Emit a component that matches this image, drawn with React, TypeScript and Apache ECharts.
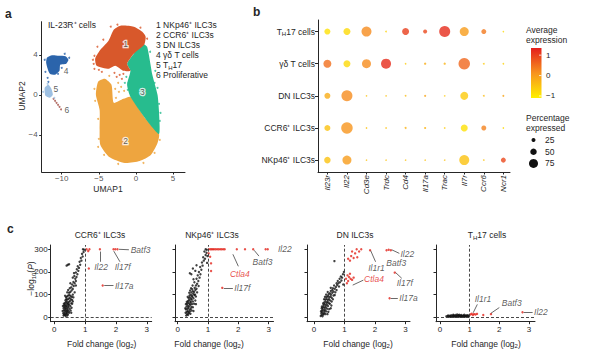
import React, { useEffect, useRef } from 'react';
import * as echarts from 'echarts';

const FONT = '"Liberation Sans", Arial, Helvetica, sans-serif';
const INK = '#262626';

// ---------- Panel a : UMAP ----------
const UMAP_NAMES = ['NKp46⁺ ILC3s', 'CCR6⁺ ILC3s', 'DN ILC3s', 'γδ T cells', 'TH17', 'Proliferative'];
const UMAP_COLORS = ['#D8582B', '#EEA53F', '#27BC8E', '#2B64AB', '#9EC0E2', '#A5524A'];
const UMAP_OUTLINE_1: [number, number][] = [[-2.1, 6.9], [-0.3, 6.8], [0.85, 6.3], [1.3, 5.8], [1.1, 5.0], [-0.3, 4.1], [-1.2, 3.1], [-0.75, 2.4], [-1.7, 2.4], [-2.8, 2.9], [-3.7, 2.6], [-5.3, 2.9], [-5.5, 3.6], [-4.9, 4.4], [-3.7, 5.4], [-3.0, 6.5]];
const UMAP_OUTLINE_2: [number, number][] = [[-1.5, -6.8], [0.5, -6.6], [2.0, -6.0], [2.9, -4.8], [3.1, -3.9], [1.2, -2.3], [-0.75, -0.2], [-1.7, -0.4], [-3.0, -0.8], [-3.3, 1.0], [-4.2, 1.6], [-5.1, 1.3], [-5.4, 0.0], [-4.9, -1.5], [-4.9, -3.5], [-4.8, -5.0], [-3.6, -6.2]];
const UMAP_OUTLINE_3: [number, number][] = [[0.85, 5.1], [1.5, 4.8], [2.2, 2.0], [2.9, 0.0], [3.1, -1.7], [3.1, -3.9], [1.2, -2.3], [-0.75, -0.2], [-1.2, 1.0], [-0.75, 2.4], [-1.2, 3.1], [-0.3, 4.1]];
const UMAP_OUTLINE_4: [number, number][] = [[-12.0, 3.7], [-11.3, 3.95], [-10.4, 3.9], [-9.5, 3.85], [-9.1, 3.5], [-9.4, 3.1], [-10.2, 3.0], [-10.3, 2.4], [-10.9, 2.0], [-11.6, 2.1], [-11.9, 2.6], [-12.1, 3.2]];
const UMAP_OUTLINE_5: [number, number][] = [[-12.3, 0.7], [-11.8, 1.0], [-11.4, 0.6], [-11.2, 0.0], [-11.6, -0.3], [-12.2, -0.1]];
const UMAP_OUTLINES = [UMAP_OUTLINE_2, UMAP_OUTLINE_3, UMAP_OUTLINE_1, UMAP_OUTLINE_4, UMAP_OUTLINE_5];
const UMAP_OUTLINE_CLUSTER = [1, 2, 0, 3, 4];
// scattered cells: [x, y, cluster index]
const UMAP_CELLS: [number, number, number][] = [
  [-2.6, 1.8, 0], [-2.2, 2.0, 0], [-1.9, 1.6, 0], [-2.9, 2.2, 0], [-1.7, 2.1, 0], [-2.4, 1.2, 1], [-2.0, 0.8, 1],
  [-1.6, 0.4, 1], [-2.8, 0.6, 1], [-2.3, 0.3, 1], [-2.7, -0.3, 1], [-1.3, 1.8, 2], [-1.0, 1.2, 2], [-1.1, 0.5, 2],
  [-1.5, 1.2, 2], [-5.7, 3.1, 0], [-5.6, 3.9, 0], [-5.2, 4.8, 0], [-4.4, 5.5, 0], [-3.4, 6.8, 0], [-5.6, 2.6, 0],
  [-5.8, 3.5, 0], [-5.0, 2.5, 0], [-4.6, 2.3, 0], [-2.5, 7.0, 0], [0.6, 6.7, 0], [1.5, 5.6, 0],
  [-5.6, 0.6, 1], [-5.5, -0.6, 1], [-5.1, -2.4, 1], [-5.0, -4.4, 1], [-5.1, -5.2, 1], [-4.3, -6.0, 1], [-2.4, -6.9, 1],
  [1.0, -6.8, 1], [2.5, -5.8, 1], [3.2, -4.5, 1], [-3.6, 1.9, 1], [-3.6, 0.2, 1],
  [3.2, -2.6, 2], [3.1, -0.9, 2], [2.5, 1.2, 2], [2.6, 2.4, 2], [1.9, 4.3, 2], [3.3, -1.8, 2], [2.9, 0.7, 2],
  [-11.9, 1.7, 3], [-11.8, 1.3, 3], [-12.2, 2.3, 3], [-9.0, 3.7, 3], [-10.0, 2.7, 3], [-12.3, 3.5, 3], [-9.6, 4.1, 3], [-10.5, 2.1, 3],
  [-11.1, -0.4, 5], [-10.9, -0.6, 5], [-10.7, -0.8, 5], [-10.5, -1.0, 5], [-10.3, -1.2, 5], [-10.1, -1.45, 5], [-11.0, -0.3, 4],
  [-12.5, 0.3, 4], [-11.9, 1.1, 4],
];
const UMAP_X_TICKS = [-10, -5, 0, 5];
const UMAP_Y_TICKS = [-4, 0, 4];
const UMAP_TAGS: [string, number, number][] = [['1', -1.4, 5.1], ['2', -1.4, -4.6], ['3', 0.85, 0.26], ['4', -9.4, 2.36], ['5', -10.8, 0.53], ['6', -9.3, -1.47]];

// ---------- Panel b : dot plot ----------
const DOT_GENES = ['Il23r', 'Il22', 'Cd3e', 'Trdc', 'Cd4', 'Il17a', 'Trac', 'Il7r', 'Ccr6', 'Ncr1'];
const DOT_GROUPS_TOP_DOWN = ['TH17 cells', 'γδ T cells', 'DN ILC3s', 'CCR6⁺ ILC3s', 'NKp46⁺ ILC3s'];
const AVG_EXPRESSION = [
  [-0.9, -0.8, 0.2, -0.7, 1.0, 0.9, 1.2, 0.0, 0.4, -0.8],
  [0.5, -0.8, 0.2, 1.2, -0.6, -0.2, -0.3, 0.6, -0.6, -0.7],
  [-0.2, 0.2, -0.5, -0.5, -0.4, -0.1, -0.6, -0.6, -0.4, -0.1],
  [-0.5, 0.1, -0.5, -0.5, -0.3, -0.3, -0.6, -0.9, 0.3, -0.8],
  [-0.5, 0.0, -0.5, -0.5, -0.5, -0.5, -0.5, -0.5, -0.5, 0.9],
];
const PCT_EXPRESSED = [
  [45, 55, 85, 2, 55, 25, 95, 75, 35, 1],
  [65, 55, 75, 85, 1, 8, 8, 100, 3, 2],
  [45, 95, 1, 1, 2, 7, 1, 65, 3, 6],
  [45, 100, 1, 1, 5, 6, 1, 55, 35, 1],
  [50, 75, 1, 1, 1, 1, 1, 85, 2, 35],
];
const COLORBAR_TICKS = [1, 0, -1];
const SIZE_LEGEND = [25, 50, 75];

// ---------- Panel c : volcano plots ----------
const VOLCANO_TITLES = ['CCR6⁺ ILC3s', 'NKp46⁺ ILC3s', 'DN ILC3s', 'TH17 cells'];
const FC_TICKS = [0, 1, 2, 3];
const P_TICKS = [0, 100, 200, 300];
const CCR6_OTHER: [number, number][] = [
  [0.30, 8], [0.32, 12], [0.35, 10], [0.38, 15], [0.33, 20], [0.36, 25], [0.40, 18], [0.42, 22], [0.31, 30], [0.34, 35],
  [0.37, 30], [0.41, 28], [0.44, 32], [0.47, 26], [0.30, 40], [0.33, 45], [0.36, 42], [0.39, 38], [0.43, 40], [0.46, 45],
  [0.50, 38], [0.32, 52], [0.35, 55], [0.38, 50], [0.41, 58], [0.45, 52], [0.48, 56], [0.52, 50], [0.34, 62], [0.37, 66],
  [0.40, 70], [0.43, 64], [0.47, 68], [0.51, 72], [0.55, 62], [0.36, 75], [0.39, 80], [0.42, 78], [0.46, 82], [0.50, 85],
  [0.54, 80], [0.58, 76], [0.38, 88], [0.41, 92], [0.45, 96], [0.49, 98], [0.53, 94], [0.57, 90], [0.60, 100], [0.29, 18],
  [0.31, 60], [0.44, 12], [0.48, 20], [0.53, 30], [0.56, 42], [0.40, 48], [0.37, 6], [0.42, 8], [0.46, 60], [0.60, 70],
  [0.48, 108], [0.52, 112], [0.56, 118], [0.45, 120], [0.60, 125], [0.55, 132], [0.63, 138], [0.58, 145], [0.66, 150],
  [0.62, 156], [0.70, 160], [0.52, 150], [0.68, 170], [0.72, 178], [0.65, 182], [0.75, 190], [0.70, 198], [0.78, 205],
  [0.73, 212], [0.80, 218], [0.76, 225], [0.84, 232], [0.82, 245], [0.88, 250], [0.86, 262], [0.92, 268], [0.90, 280],
  [0.95, 288], [0.97, 298], [0.93, 300], [0.60, 175], [0.64, 195], [0.40, 228], [0.44, 232], [0.48, 234],
  [0.27, 28], [0.28, 50], [0.35, 95], [0.42, 110], [0.50, 128], [0.58, 60], [0.62, 88], [0.55, 20], [0.66, 110], [0.70, 140],
];
const CCR6_SIG: [number, number][] = [[1.05, 300], [1.10, 292], [1.14, 300], [1.12, 215], [1.48, 300], [1.92, 300], [1.98, 300], [2.05, 300], [1.57, 140]];
const NKP46_OTHER: [number, number][] = [
  [0.28, 8], [0.31, 14], [0.34, 10], [0.37, 18], [0.30, 24], [0.33, 28], [0.36, 22], [0.40, 26], [0.27, 35], [0.32, 38],
  [0.35, 42], [0.39, 34], [0.43, 38], [0.29, 48], [0.33, 52], [0.37, 48], [0.41, 55], [0.45, 46], [0.31, 60], [0.35, 64],
  [0.39, 60], [0.43, 66], [0.47, 58], [0.34, 72], [0.38, 76], [0.42, 70], [0.46, 78], [0.50, 70], [0.36, 84], [0.40, 88],
  [0.44, 82], [0.48, 90], [0.52, 84], [0.39, 96], [0.43, 100], [0.47, 95], [0.51, 104], [0.55, 98], [0.45, 110], [0.50, 115],
  [0.54, 112], [0.58, 120], [0.48, 124], [0.56, 130], [0.62, 126], [0.42, 16], [0.46, 30], [0.50, 44], [0.54, 60], [0.58, 74],
  [0.30, 68], [0.26, 20], [0.60, 92], [0.38, 108], [0.44, 128], [0.60, 140], [0.64, 148], [0.55, 155], [0.68, 160],
  [0.62, 170], [0.72, 175], [0.66, 185], [0.52, 168], [0.75, 190], [0.70, 200], [0.58, 205], [0.78, 210], [0.74, 222],
  [0.82, 228], [0.45, 190], [0.40, 194], [0.50, 215], [0.62, 230], [0.80, 242], [0.86, 250], [0.90, 258], [0.84, 265],
  [0.92, 275], [0.95, 285], [0.96, 298], [0.92, 300], [0.88, 290], [0.98, 270], [0.97, 240],
  [0.25, 40], [0.27, 58], [0.33, 90], [0.41, 118], [0.49, 140], [0.57, 100], [0.64, 110], [0.52, 28], [0.60, 58], [0.69, 138],
];
const NKP46_SIG: [number, number][] = [
  [1.03, 300], [1.08, 300], [1.12, 300], [1.16, 300], [1.20, 300], [1.25, 300], [1.30, 300], [1.35, 300], [1.40, 300],
  [1.45, 300], [1.50, 300], [1.55, 300], [1.95, 300], [2.22, 300], [2.49, 300], [2.90, 300], [2.97, 300],
  [1.02, 282], [1.07, 267], [1.10, 238], [1.10, 204], [1.47, 130],
];
const DN_OTHER: [number, number][] = [
  [0.22, 6], [0.25, 10], [0.28, 5], [0.31, 12], [0.24, 18], [0.27, 22], [0.30, 16], [0.34, 20], [0.37, 14], [0.26, 30],
  [0.29, 34], [0.33, 28], [0.36, 32], [0.40, 26], [0.28, 42], [0.32, 46], [0.35, 40], [0.39, 44], [0.43, 38], [0.31, 54],
  [0.35, 58], [0.38, 52], [0.42, 56], [0.46, 50], [0.34, 66], [0.38, 70], [0.42, 64], [0.45, 68], [0.49, 62], [0.37, 78],
  [0.41, 82], [0.45, 76], [0.49, 80], [0.53, 74], [0.42, 90], [0.46, 94], [0.50, 88], [0.54, 92], [0.58, 86], [0.48, 102],
  [0.52, 106], [0.56, 100], [0.60, 108], [0.55, 116], [0.60, 120], [0.64, 114], [0.62, 128], [0.68, 126], [0.72, 134],
  [0.66, 140], [0.45, 112], [0.40, 100], [0.33, 80], [0.52, 60], [0.58, 70], [0.64, 96], [0.70, 110], [0.26, 48], [0.47, 24],
  [0.55, 40], [0.76, 142], [0.80, 150], [0.85, 155], [0.78, 160], [0.90, 162], [0.92, 175], [0.88, 180], [0.95, 190],
  [0.98, 200], [0.84, 170], [0.74, 150], [0.96, 145], [0.67, 248], [0.55, 130], [0.82, 136],
  [0.23, 26], [0.25, 40], [0.30, 62], [0.36, 90], [0.44, 14], [0.50, 36], [0.57, 52], [0.62, 80], [0.68, 98], [0.74, 120],
];
const DN_SIG: [number, number][] = [
  [1.12, 258], [1.18, 250], [1.22, 270], [1.30, 262], [1.35, 282], [1.42, 265], [1.48, 290], [1.55, 300], [1.25, 290],
  [1.40, 300], [1.84, 296], [2.38, 296], [2.45, 298], [2.52, 296], [2.65, 197], [2.48, 84],
  [1.05, 170], [1.10, 185], [1.15, 178], [1.20, 170], [1.25, 165], [1.12, 160], [1.30, 175], [1.08, 150], [1.18, 192],
];
const TH17_OTHER: [number, number][] = [
  [0.22, 4], [0.26, 6], [0.30, 3], [0.33, 7], [0.36, 5], [0.38, 9], [0.41, 4], [0.44, 6], [0.46, 8], [0.48, 3], [0.50, 6],
  [0.52, 10], [0.55, 5], [0.57, 7], [0.60, 4], [0.62, 9], [0.64, 6], [0.66, 3], [0.68, 8], [0.70, 5], [0.72, 10], [0.74, 6],
  [0.76, 4], [0.78, 8], [0.80, 6], [0.82, 11], [0.84, 5], [0.86, 8], [0.88, 4], [0.90, 7], [0.92, 9], [0.94, 5], [0.96, 8],
  [0.45, 11], [0.58, 12], [0.65, 11], [0.35, 2], [0.28, 8], [0.53, 2], [0.71, 2], [0.83, 2], [0.97, 3],
];
const TH17_SIG: [number, number][] = [[1.03, 12], [1.07, 16], [1.11, 10], [1.15, 14], [1.20, 12], [1.25, 15], [1.46, 10], [1.72, 14], [2.78, 22]];
const VOLCANO_OTHER = [CCR6_OTHER, NKP46_OTHER, DN_OTHER, TH17_OTHER];
const VOLCANO_SIG = [CCR6_SIG, NKP46_SIG, DN_SIG, TH17_SIG];

// annotation layout (data coordinates): gene, leader line (x1, y1, x2, y2), text anchor, alignment, red text
type Ann = { g: string; l?: [number, number, number, number]; t: [number, number]; a: string; red?: boolean };
const VOLCANO_ANN: Ann[][] = [
  [
    { g: 'Il22', l: [1.48, 290, 1.48, 245], t: [1.52, 222], a: 'center' },
    { g: 'Il17f', l: [1.93, 292, 2.13, 245], t: [2.22, 222], a: 'center' },
    { g: 'Batf3', l: [2.1, 300, 2.42, 298], t: [2.48, 298], a: 'left' },
    { g: 'Il17a', l: [1.62, 140, 1.92, 140], t: [1.97, 140], a: 'left' },
  ],
  [
    { g: 'Il22', l: [3.02, 300, 3.27, 300], t: [3.31, 300], a: 'left' },
    { g: 'Batf3', l: [2.52, 296, 2.68, 270], t: [2.8, 243], a: 'center' },
    { g: 'Ctla4', l: [1.82, 278, 2.0, 225], t: [2.05, 190], a: 'center', red: true },
    { g: 'Il17f', l: [1.52, 130, 1.82, 130], t: [1.87, 130], a: 'left' },
  ],
  [
    { g: 'Il1r1', l: [1.86, 294, 2.02, 245], t: [2.05, 218], a: 'center' },
    { g: 'Il22', l: [2.55, 298, 2.8, 282], t: [2.84, 280], a: 'left' },
    { g: 'Batf3', t: [2.7, 238], a: 'center' },
    { g: 'Il17f', l: [2.68, 197, 2.88, 172], t: [2.98, 150], a: 'center' },
    { g: 'Il17a', l: [2.52, 84, 2.75, 84], t: [2.8, 84], a: 'left' },
    { g: 'Ctla4', l: [1.62, 164, 1.27, 142], t: [1.97, 170], a: 'center', red: true },
  ],
  [
    { g: 'Il1r1', l: [1.12, 20, 1.26, 57], t: [1.45, 80], a: 'center' },
    { g: 'Batf3', l: [1.72, 18, 2.0, 43], t: [2.42, 62], a: 'center' },
    { g: 'Il22', l: [2.82, 22, 3.12, 22], t: [3.17, 22], a: 'left' },
  ],
];

const sizeOf = (pct: number) => 1.5 + 0.1 * Math.min(pct, 100);

const SUB = { fontSize: 6, lineHeight: 5, verticalAlign: 'bottom' };

function richLabel(s: string) {
  if (s.startsWith('TH17')) return '{a|T}{s|H}{a|' + s.slice(2) + '}';
  return '{a|' + s + '}';
}

function text(x: number, y: number, t: string, extra: any = {}, elExtra: any = {}) {
  const align = extra.align || 'left';
  const va = extra.verticalAlign || 'middle';
  return {
    type: 'text', x, y, silent: true, ...elExtra,
    style: {
      text: t, fontSize: 8.5, fontFamily: FONT, fill: INK,
      align, textAlign: align, verticalAlign: va, textVerticalAlign: va,
      ...extra,
    },
  };
}

const UMAP_X_MIN = -12.7;
const UMAP_Y_MIN = -7.7;

export default function App() {
  const ref = useRef<HTMLDivElement>(null);
  useEffect(() => {
    if (!ref.current) return;
    const chart = echarts.init(ref.current, undefined, { renderer: 'svg' });

    const axisBase = (extra: any = {}) => ({
      axisLine: { show: true, onZero: false, lineStyle: { color: INK, width: 1 } },
      axisTick: { show: true, length: 2.5, lineStyle: { color: INK } },
      splitLine: { show: false },
      axisLabel: { fontSize: 8, color: INK, fontFamily: FONT, margin: 3 },
      ...extra,
    });
    const minus = (v: number) => String(v).replace('-', '−');

    const volcanoGrids = [
      { left: 50.7, top: 245, width: 101, height: 76.7 },
      { left: 175, top: 245, width: 98.5, height: 76.7 },
      { left: 307, top: 245, width: 103, height: 76.7 },
      { left: 436, top: 245, width: 99, height: 76.7 },
    ];
    const volcanoXRange = [[-0.117, 3.16], [-0.09, 3.16], [-0.23, 3.15], [-0.13, 3.2]];

    const xAxis: any[] = [
      { gridIndex: 0, type: 'value', min: UMAP_X_MIN, max: 6.6, ...axisBase({
        axisTick: { show: true, length: 2.5, customValues: UMAP_X_TICKS, lineStyle: { color: INK } },
        axisLabel: { show: false },
      }) },
      { gridIndex: 1, type: 'value', min: -0.48, max: 9.34, ...axisBase({
        axisTick: { show: true, length: 2.5, customValues: DOT_GENES.map((_, i) => i), lineStyle: { color: INK } },
        axisLabel: { fontSize: 8, color: INK, fontFamily: FONT, fontStyle: 'italic', margin: 3, rotate: 90, customValues: DOT_GENES.map((_, i) => i), formatter: (v: number) => DOT_GENES[Math.round(v)] || '' },
      }) },
    ];
    const yAxis: any[] = [
      { gridIndex: 0, type: 'value', min: UMAP_Y_MIN, max: 7.3, ...axisBase({
        axisTick: { show: true, length: 2.5, customValues: UMAP_Y_TICKS, lineStyle: { color: INK } },
        axisLabel: { show: false },
      }) },
      { gridIndex: 1, type: 'value', min: -0.37, max: 4.36, ...axisBase({
        axisTick: { show: true, length: 3, customValues: [0, 1, 2, 3, 4], lineStyle: { color: INK } },
        axisLabel: {
          fontSize: 8.5, color: INK, fontFamily: FONT, margin: 3, customValues: [0, 1, 2, 3, 4],
          formatter: (v: number) => richLabel(DOT_GROUPS_TOP_DOWN[4 - Math.round(v)] || ''),
          rich: { a: { fontSize: 8.5, lineHeight: 11, color: INK, fontFamily: FONT }, s: { ...SUB, color: INK, fontFamily: FONT } },
        },
      }) },
    ];
    volcanoGrids.forEach((_, i) => {
      xAxis.push({ gridIndex: 2 + i, type: 'value', min: volcanoXRange[i][0], max: volcanoXRange[i][1], ...axisBase({
        axisTick: { show: true, length: 2.5, customValues: FC_TICKS, lineStyle: { color: INK } },
        axisLabel: { fontSize: 8, color: INK, fontFamily: FONT, margin: 4, customValues: FC_TICKS },
      }) });
      yAxis.push({ gridIndex: 2 + i, type: 'value', min: -19.4, max: 319, ...axisBase({
        axisTick: { show: true, length: 2.5, customValues: P_TICKS, lineStyle: { color: INK } },
        axisLabel: { show: i === 0, fontSize: 8, color: INK, fontFamily: FONT, margin: 3, customValues: P_TICKS },
      }) });
    });

    const series: any[] = [];
    // UMAP clusters
    series.push({
      type: 'custom', xAxisIndex: 0, yAxisIndex: 0, silent: true,
      data: UMAP_OUTLINES.map((_, i) => [i]),
      renderItem: (_p: any, api: any) => {
        const idx = api.value(0);
        const pts = UMAP_OUTLINES[idx].map((p) => api.coord(p));
        return { type: 'polygon', shape: { points: pts, smooth: 0.2 }, style: { fill: UMAP_COLORS[UMAP_OUTLINE_CLUSTER[idx]] } };
      },
    });
    series.push({
      type: 'scatter', xAxisIndex: 0, yAxisIndex: 0, symbolSize: 2, silent: true,
      data: UMAP_CELLS.map((c) => ({ value: [c[0], c[1]], itemStyle: { color: UMAP_COLORS[c[2]] } })),
    });
    series.push({
      type: 'scatter', xAxisIndex: 0, yAxisIndex: 0, symbolSize: 0.1, silent: true, itemStyle: { color: 'transparent' },
      data: UMAP_TAGS.map((t, i) => ({
        value: [t[1], t[2]], name: t[0],
        label: i < 3
          ? { show: true, position: [0, 0], align: 'center', verticalAlign: 'middle', formatter: '{b}', fontSize: 8.5, color: '#333', fontFamily: FONT, textBorderColor: '#fff', textBorderWidth: 2.5 }
          : { show: true, position: [0, 0], align: 'center', verticalAlign: 'middle', formatter: '{b}', fontSize: 8.5, color: '#333', fontFamily: FONT },
      })),
    });
    // UMAP tick labels, placed through the axes' own scales
    series.push({
      type: 'scatter', xAxisIndex: 0, yAxisIndex: 0, symbolSize: 0.1, silent: true, clip: false, itemStyle: { color: 'transparent' },
      data: [
        ...UMAP_X_TICKS.map((v) => ({ value: [v, UMAP_Y_MIN], name: minus(v), label: { show: true, position: [0, 0], offset: [0, 2.5], align: 'center', verticalAlign: 'top', formatter: '{b}', fontSize: 8, color: INK, fontFamily: FONT } })),
        ...UMAP_Y_TICKS.map((v) => ({ value: [UMAP_X_MIN, v], name: minus(v), label: { show: true, position: [0, 0], offset: [-4, 0], align: 'right', verticalAlign: 'middle', formatter: '{b}', fontSize: 8, color: INK, fontFamily: FONT } })),
      ],
    });
    // dot plot
    const dotData: any[] = [];
    DOT_GROUPS_TOP_DOWN.forEach((_, r) => DOT_GENES.forEach((__, c) => dotData.push([c, 4 - r, AVG_EXPRESSION[r][c], PCT_EXPRESSED[r][c]])));
    const dotSeriesIndex = series.length;
    series.push({
      type: 'scatter', xAxisIndex: 1, yAxisIndex: 1, silent: true, data: dotData,
      symbolSize: (v: number[]) => sizeOf(v[3]),
    });
    // volcano plots
    VOLCANO_OTHER.forEach((pts, i) => {
      const dashed: any[] = [{ xAxis: 1 }];
      if (i !== 2) dashed.push({ yAxis: 2 });
      series.push({
        type: 'scatter', xAxisIndex: 2 + i, yAxisIndex: 2 + i, silent: true, symbolSize: 2.4,
        itemStyle: { color: '#111' }, data: pts,
        markLine: { silent: true, symbol: ['none', 'none'], label: { show: false }, lineStyle: { color: '#333', type: [3, 2], width: 0.9 }, data: dashed },
      });
      series.push({
        type: 'scatter', xAxisIndex: 2 + i, yAxisIndex: 2 + i, silent: true, symbolSize: 2.4,
        itemStyle: { color: '#E2231A' }, data: VOLCANO_SIG[i],
        markLine: {
          silent: true, symbol: ['none', 'none'], label: { show: false },
          lineStyle: { color: '#444', type: 'solid', width: 0.8 },
          data: VOLCANO_ANN[i].filter((a) => a.l).map((a) => [{ coord: [a.l![0], a.l![1]] }, { coord: [a.l![2], a.l![3]] }]),
        },
      });
      series.push({
        type: 'scatter', xAxisIndex: 2 + i, yAxisIndex: 2 + i, silent: true, symbolSize: 0.1, clip: false, itemStyle: { color: 'transparent' },
        data: VOLCANO_ANN[i].map((a) => ({
          value: a.t, name: a.g,
          label: { show: true, position: [0, 0], formatter: '{b}', align: a.a, verticalAlign: 'middle', fontSize: 8.5, fontStyle: 'italic', fontFamily: FONT, color: a.red ? '#E2231A' : '#333' },
        })),
      });
    });

    const richSub = { s: { ...SUB, fontFamily: FONT, fill: INK }, i: { fontSize: 8.5, fontStyle: 'italic', fontFamily: FONT, fill: INK } };
    const richA = { a: { fontSize: 8.5, lineHeight: 11, fontFamily: FONT, fill: INK } };
    const graphic: any[] = [
      text(5, 14, 'a', { fontSize: 12, fontWeight: 'bold' }),
      text(253, 12, 'b', { fontSize: 12, fontWeight: 'bold' }),
      text(7, 229, 'c', { fontSize: 12, fontWeight: 'bold' }),
      text(48, 25, 'IL-23R⁺ cells', { fontSize: 8.5 }),
      text(108, 188.5, 'UMAP1', { fontSize: 8.5, align: 'center' }),
      text(22, 96, 'UMAP2', { fontSize: 8.5, align: 'center' }, { rotation: Math.PI / 2 }),
      text(526, 30, 'Average', { fontSize: 8.5 }),
      text(526, 40, 'expression', { fontSize: 8.5 }),
      text(526, 118, 'Percentage', { fontSize: 8.5 }),
      text(526, 128, 'expressed', { fontSize: 8.5 }),
      {
        type: 'rect', silent: true, shape: { x: 531, y: 48, width: 10.5, height: 50 },
        style: { fill: new echarts.graphic.LinearGradient(0, 0, 0, 1, [{ offset: 0, color: '#E41E1C' }, { offset: 0.5, color: '#F7931E' }, { offset: 1, color: '#FFF000' }]) },
      },
    ];
    UMAP_NAMES.forEach((n, i) => {
      const t = n === 'TH17' ? '{a|' + (i + 1) + ' T}{s|H}{a|17}' : '{a|' + (i + 1) + ' ' + n + '}';
      graphic.push(text(156, 25 + i * 10, t, { fontSize: 8.5, lineHeight: 11, rich: { ...richA, s: { ...SUB, fontFamily: FONT, fill: INK } } }));
    });
    COLORBAR_TICKS.forEach((v) => {
      const y = 48 + (1.35 - v) / 2.45 * 50;
      graphic.push(text(546, y, minus(v), { fontSize: 8 }));
      graphic.push({ type: 'line', silent: true, shape: { x1: 539, y1: y, x2: 541.5, y2: y }, style: { stroke: '#fff', lineWidth: 0.8 } });
    });
    SIZE_LEGEND.forEach((p, i) => {
      const y = 140 + i * 11.7;
      graphic.push({ type: 'circle', silent: true, shape: { cx: 533.5, cy: y, r: sizeOf(p) / 2 }, style: { fill: '#111' } });
      graphic.push(text(545, y, String(p), { fontSize: 8.5 }));
    });
    const titleX = [100, 212, 355, 487];
    const nameX = [101.7, 209, 358, 486];
    VOLCANO_TITLES.forEach((t, i) => {
      graphic.push(text(titleX[i], 235, richLabel(t), { fontSize: 8.5, align: 'center', rich: { ...richA, s: { ...SUB, fontFamily: FONT, fill: INK } } }));
      graphic.push(text(nameX[i], 343.5, '{a|Fold change (log}{s|2}{a|)}', { fontSize: 8.5, align: 'center', rich: { ...richA, s: { ...SUB, fontFamily: FONT, fill: INK } } }));
    });
    graphic.push(text(31, 278.5, '{a|−log}{s|10}{a|(}{i|P}{a|)}', { fontSize: 8.5, align: 'center', rich: { ...richA, ...richSub } }, { rotation: Math.PI / 2 }));

    chart.setOption({
      animation: false,
      textStyle: { fontFamily: FONT },
      grid: [
        { left: 41.7, top: 21.7, width: 143.3, height: 150.3 },
        { left: 318, top: 20, width: 192, height: 152 },
        ...volcanoGrids,
      ],
      xAxis, yAxis,
      visualMap: [{
        show: false, type: 'continuous', dimension: 2, seriesIndex: [dotSeriesIndex],
        min: -1.1, max: 1.35, inRange: { color: ['#FFF000', '#F7931E', '#E41E1C'] },
      }],
      series,
      graphic,
    });
    return () => chart.dispose();
  }, []);
  return <div ref={ref} style={{ position: 'absolute', left: 0, top: 0, width: 605, height: 359, background: '#fff' }} />;
}
